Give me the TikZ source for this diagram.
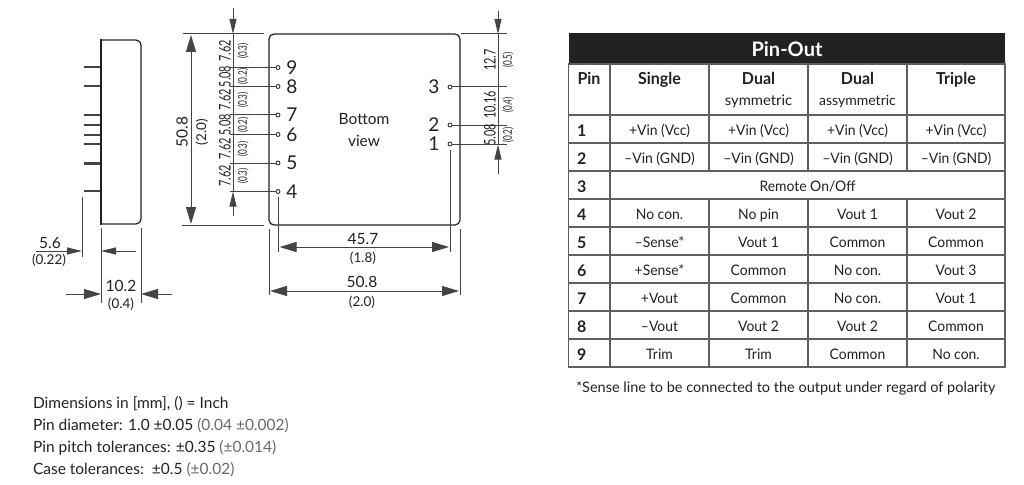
\documentclass[tikz,border=0pt]{standalone}
\usepackage{fontspec}
\setmainfont{Lato}
\usetikzlibrary{arrows.meta}
\definecolor{ink}{HTML}{222222}
\definecolor{soft}{HTML}{444444}
\definecolor{gridc}{HTML}{5F5F5F}
\tikzset{
  x=1pt,y=-1pt,
  every node/.style={inner sep=0pt,outer sep=0pt,text=ink},
  dimline/.style={draw=soft,line width=1pt},
  outline/.style={draw=ink,line width=1.2pt},
  big/.style={-{Triangle[length=17pt,width=10pt]}},
  mid/.style={-{Triangle[length=15pt,width=7pt]}},
  pinhole/.style={circle,draw=ink,line width=0.8pt,minimum size=4pt,fill=white},
  pinnum/.style={font=\fontsize{19}{19}\selectfont},
  dimtxt/.style={font=\fontsize{15.5}{15.5}\selectfont},
  dimsub/.style={font=\fontsize{13.5}{13.5}\selectfont},
  chaina/.style={font=\fontsize{16}{16}\selectfont,rotate=90,xscale=0.68},
  chainb/.style={font=\fontsize{12}{12}\selectfont,rotate=90,xscale=0.68},
  cell/.style={font=\fontsize{14.5}{14.5}\selectfont,xscale=0.96,text height=16pt,text depth=3pt},
  head/.style={font=\fontsize{16.5}{16.5}\bfseries\selectfont,xscale=0.97,text height=16pt,text depth=4pt},
  sub/.style={font=\fontsize{14.5}{14.5}\selectfont,xscale=1.02,text height=16pt,text depth=4pt},
  pinid/.style={font=\fontsize{16}{16}\bfseries\selectfont,text height=14pt,text depth=0pt},
  note/.style={font=\fontsize{15.5}{15.5}\selectfont,anchor=west},
  footn/.style={font=\fontsize{14.5}{14.5}\selectfont,anchor=west},
}
\begin{document}
\begin{tikzpicture}
\useasboundingbox (0,0) rectangle (1024,484);
\fill[white] (0,0) rectangle (1024,484);

% side view
\foreach \y/\w in {67.5/2,86.5/2,115/2,125/2.6,134.5/2,144/2.6,163/3,191/2}
  \draw[soft,line width=\w pt] (84,\y) -- (102,\y);
\fill[white,rounded corners=5pt] (101,40) rectangle (141,224);
\draw[outline,rounded corners=5pt] (101,40) -- (141,40) -- (141,224) -- (101,224);
\draw[ink,line width=1.6pt] (101,39.4) -- (101,224.6);

% bottom view outline
\draw[outline,rounded corners=5pt] (269,34) rectangle (460,225);
\node (bv1) at (364,119) {\fontsize{15.5}{15.5}\selectfont Bottom};
\node (bv2) at (364,141) {\fontsize{15.5}{15.5}\selectfont view};

% left pins
\foreach \n/\y in {9/67.5,8/86.5,7/115,6/134.5,5/163,4/191.5}{
  \node[pinhole] (h\n) at (278,\y) {};
  \coordinate (e\n) at (230,\y);
  \draw[dimline] (e\n) -- (h\n);
  \node[pinnum] (n\n) at (292,\y) {\n};
}
% right pins
\foreach \n/\y in {3/87,2/125,1/144}{
  \node[pinhole] (h\n) at (450,\y) {};
  \coordinate (e\n) at (507,\y);
  \draw[dimline] (h\n) -- (e\n);
  \node[pinnum] (n\n) at (434,\y) {\n};
}

% 50.8 vertical
\draw[dimline] (183,34) -- (264,34);
\draw[dimline] (182,225) -- (264,225);
\draw[dimline,big] (191,130) -- (191,35);
\draw[dimline,big] (191,130) -- (191,224);
\node[dimtxt,rotate=90] (v508) at (182,132) {50.8};
\node[dimsub,rotate=90] (v20) at (202,132) {(2.0)};

% left chain
\draw[dimline,mid] (233,8) -- (233,34);
\draw[dimline] (233,34) -- (233,191);
\draw[dimline,mid] (233,216) -- (233,191.5);
\foreach \y/\a/\b in {51/7.62/(0.3),76.5/5.08/(0.2),100/7.62/(0.3),125/5.08/(0.2),149/7.62/(0.3),176/7.62/(0.3)}{
  \node[chaina] at (225,\y) {\a};
  \node[chainb] at (243,\y) {\b};
}

% right chain
\draw[dimline] (461,34) -- (507,34);
\draw[dimline,mid] (498,11) -- (498,34);
\draw[dimline] (498,34) -- (498,144);
\draw[dimline,mid] (498,174) -- (498,144.5);
\foreach \y/\a/\b in {60/12.7/(0.5),105/10.16/(0.4),135/5.08/(0.2)}{
  \node[chaina] at (490,\y) {\a};
  \node[chainb] at (508,\y) {\b};
}

% 45.7 and 50.8 horizontal
\draw[dimline] (278.5,197) -- (278.5,252);
\draw[dimline] (450,150) -- (450,252);
\draw[dimline,big] (330,247) -- (279.5,247);
\draw[dimline] (330,247) -- (400,247);
\draw[dimline,big] (400,247) -- (449,247);
\node[dimtxt] (t457) at (363,239) {45.7};
\node[dimsub] (t18) at (363,258) {(1.8)};
\draw[dimline] (269,229) -- (269,295);
\draw[dimline] (460,229) -- (460,295);
\draw[dimline,big] (330,291) -- (270,291);
\draw[dimline] (330,291) -- (400,291);
\draw[dimline,big] (400,291) -- (459,291);
\node[dimtxt] (t508) at (362,282) {50.8};
\node[dimsub] (t20) at (362,302) {(2.0)};

% side view dimensions
\draw[dimline] (82,197) -- (82,257);
\draw[dimline] (101,228) -- (101,303);
\draw[dimline] (141,228) -- (141,303);
\draw[dimline,mid] (36,251) -- (82,251);
\draw[dimline,mid] (136,251) -- (101,251);
\node[dimtxt] (t56) at (50,243) {5.6};
\node[dimsub] (t022) at (49,260) {(0.22)};
\draw[dimline,big] (66,294) -- (101,294);
\draw[dimline,big] (172,294) -- (141,294);
\node[dimtxt] (t102) at (121,286) {10.2};
\node[dimsub] (t04) at (121,304) {(0.4)};

% table
\fill[ink] (568.5,33) rectangle (1005,64);
\node (title) at (787,49) {\color{white}\fontsize{20}{20}\bfseries\selectfont Pin-Out};
\draw[gridc,line width=1.3pt] (568.5,64) rectangle (1005,367);
\foreach \y in {115,143,171,199,227,255,283,311,339}
  \draw[gridc,line width=1.3pt] (568.5,\y) -- (1005,\y);
\foreach \x in {610}
  \draw[gridc,line width=1.3pt] (\x,64) -- (\x,367);
\foreach \x in {709,808,907}{
  \draw[gridc,line width=1.3pt] (\x,64) -- (\x,171);
  \draw[gridc,line width=1.3pt] (\x,199) -- (\x,367);
}
\node[head] (hPin) at (589,79) {Pin};
\node[head] (hSingle) at (659.5,79) {Single};
\node[head] (hDualA) at (758.5,79) {Dual};
\node[sub] (hSym) at (758.5,100) {symmetric};
\node[font=\fontsize{14}{14}\selectfont,text height=16pt,text depth=4pt] (hAsym) at (857.5,100) {assymmetric};
\node[head] (hDualB) at (857.5,79) {Dual};
\node[head] (hTriple) at (956,79) {Triple};
\foreach \r/\y/\a/\b/\c/\d in {
  1/129/{+Vin (Vcc)}/{+Vin (Vcc)}/{+Vin (Vcc)}/{+Vin (Vcc)},
  2/157/{–Vin (GND)}/{–Vin (GND)}/{–Vin (GND)}/{–Vin (GND)},
  4/213/{No con.}/{No pin}/{Vout 1}/{Vout 2},
  5/241/{–Sense*}/{Vout 1}/{Common}/{Common},
  6/269/{+Sense*}/{Common}/{No con.}/{Vout 3},
  7/297/{+Vout}/{Common}/{No con.}/{Vout 1},
  8/325/{–Vout}/{Vout 2}/{Vout 2}/{Common},
  9/353/{Trim}/{Trim}/{Common}/{No con.}}{
  \node[pinid,anchor=west] (p\r) at (577,\y) {\r};
  \node[cell] (a\r) at (659.5,\y) {\a};
  \node[cell] (b\r) at (758.5,\y) {\b};
  \node[cell] (c\r) at (857.5,\y) {\c};
  \node[cell] (d\r) at (956,\y) {\d};
}
\node[pinid,anchor=west] (p3) at (577,185) {3};
\node[cell] (rem) at (807.5,185) {Remote On/Off};
\node[footn] (foot) at (576,388) {*Sense line to be connected to the output under regard of polarity};

% notes
\node[note] (n1) at (33,403.5) {Dimensions in [mm], () = Inch};
\node[note] (n2) at (33,425.5) {Pin diameter: 1.0 ±0.05 \textcolor{soft!80}{(0.04 ±0.002)}};
\node[note] (n3) at (33,447.5) {Pin pitch tolerances: ±0.35 \textcolor{soft!80}{(±0.014)}};
\node[note] (n4) at (33,469.5) {Case tolerances:\ \ ±0.5 \textcolor{soft!80}{(±0.02)}};
\end{tikzpicture}
\end{document}
